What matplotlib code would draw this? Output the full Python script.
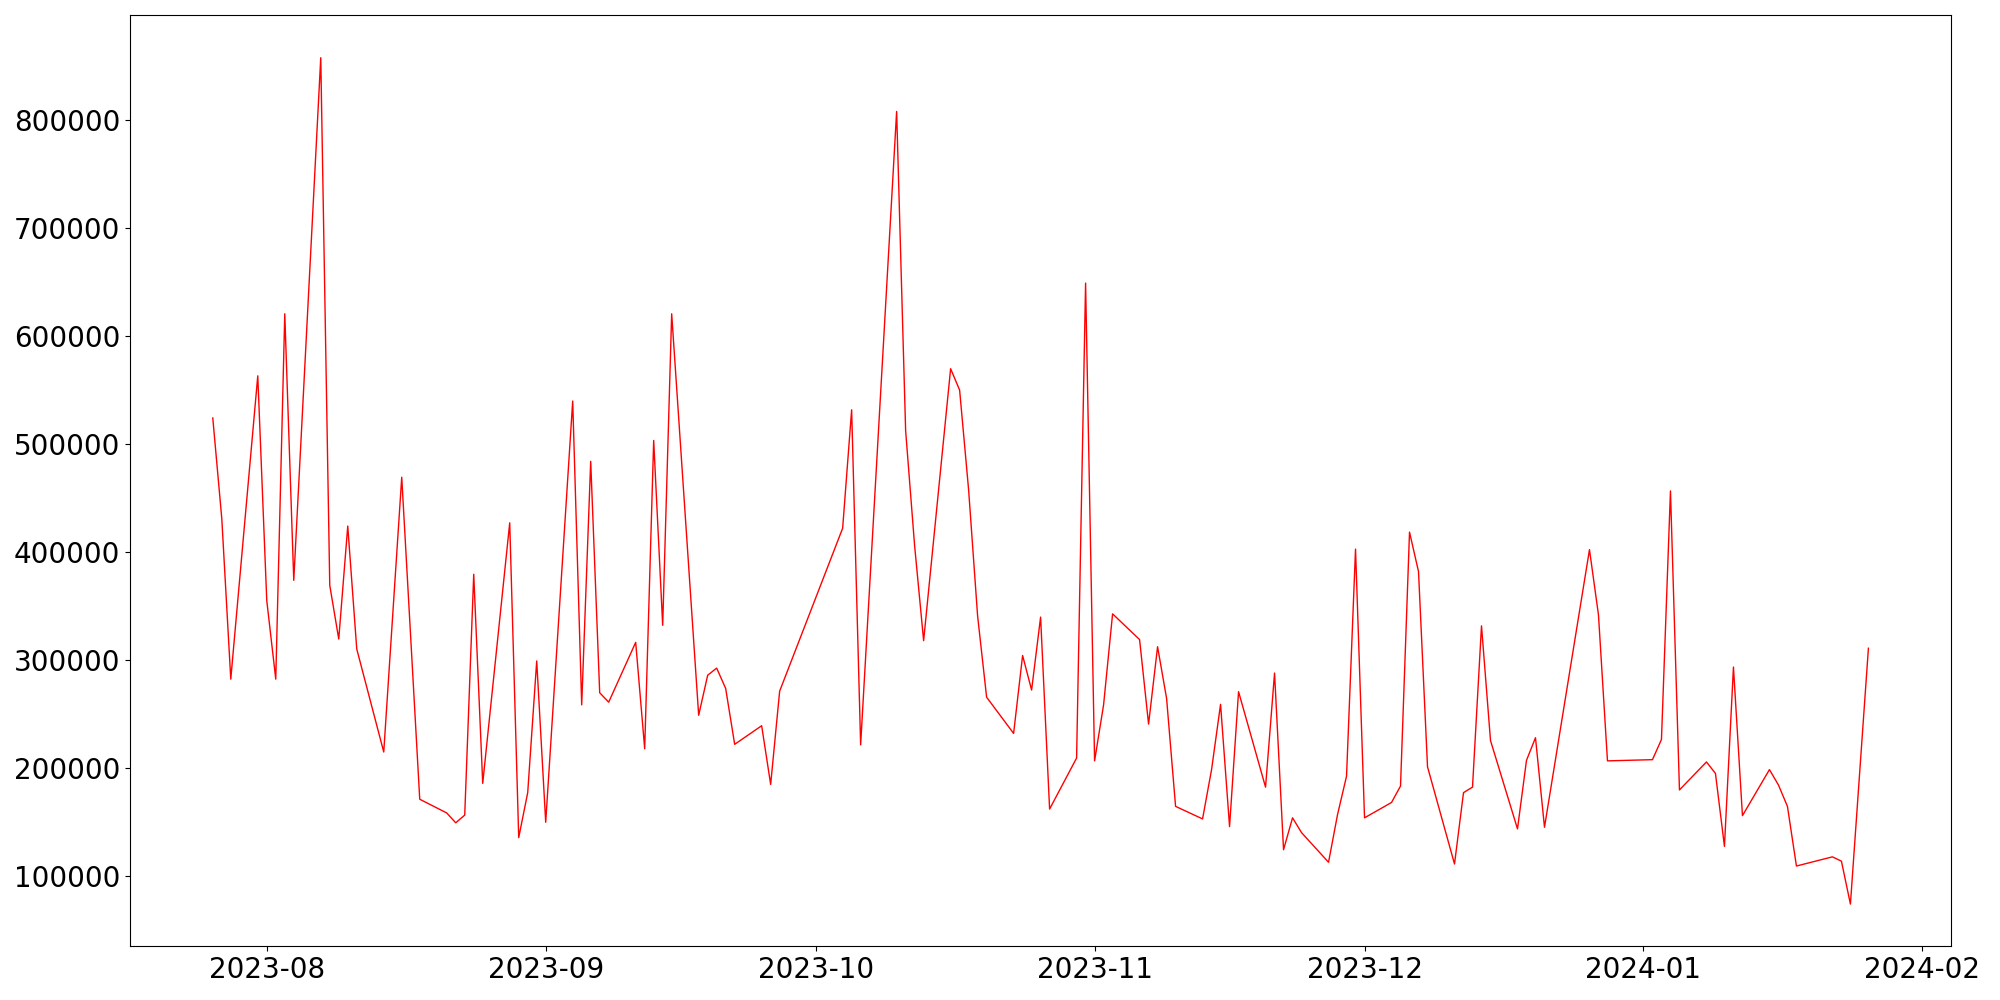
import matplotlib
matplotlib.use("Agg")
import matplotlib.pyplot as plt
import numpy as np

dates = [
    "2023-07-26", "2023-07-27", "2023-07-28", "2023-07-31",
    "2023-08-01", "2023-08-02", "2023-08-03", "2023-08-04",
    "2023-08-07", "2023-08-08", "2023-08-09", "2023-08-10", "2023-08-11",
    "2023-08-14", "2023-08-16", "2023-08-18",
    "2023-08-21", "2023-08-22", "2023-08-23", "2023-08-24", "2023-08-25",
    "2023-08-28", "2023-08-29", "2023-08-30", "2023-08-31", "2023-09-01",
    "2023-09-04", "2023-09-05", "2023-09-06", "2023-09-07", "2023-09-08",
    "2023-09-11", "2023-09-12", "2023-09-13", "2023-09-14", "2023-09-15",
    "2023-09-18", "2023-09-19", "2023-09-20", "2023-09-21", "2023-09-22",
    "2023-09-25", "2023-09-26", "2023-09-27",
    "2023-10-04", "2023-10-05", "2023-10-06",
    "2023-10-10", "2023-10-11", "2023-10-12", "2023-10-13",
    "2023-10-16", "2023-10-17", "2023-10-18", "2023-10-19", "2023-10-20",
    "2023-10-23", "2023-10-24", "2023-10-25", "2023-10-26", "2023-10-27",
    "2023-10-30", "2023-10-31", "2023-11-01", "2023-11-02", "2023-11-03",
    "2023-11-06", "2023-11-07", "2023-11-08", "2023-11-09", "2023-11-10",
    "2023-11-13", "2023-11-14", "2023-11-15", "2023-11-16", "2023-11-17",
    "2023-11-20", "2023-11-21", "2023-11-22", "2023-11-23", "2023-11-24",
    "2023-11-27", "2023-11-28", "2023-11-29", "2023-11-30", "2023-12-01",
    "2023-12-04", "2023-12-05", "2023-12-06", "2023-12-07", "2023-12-08",
    "2023-12-11", "2023-12-12", "2023-12-13", "2023-12-14", "2023-12-15",
    "2023-12-18", "2023-12-19", "2023-12-20", "2023-12-21",
    "2023-12-26", "2023-12-27", "2023-12-28",
    "2024-01-02", "2024-01-03", "2024-01-04", "2024-01-05",
    "2024-01-08", "2024-01-09", "2024-01-10", "2024-01-11", "2024-01-12",
    "2024-01-15", "2024-01-16", "2024-01-17", "2024-01-18",
    "2024-01-22", "2024-01-23", "2024-01-24", "2024-01-26",
]

values = [
    524000, 431000, 282400, 563000,
    355000, 282400, 620400, 373800,
    857300, 369200, 319500, 424000, 310300,
    215000, 469200, 171300,
    158600, 149500, 156600, 379400, 186000,
    427000, 135800, 177400, 299200, 150000,
    539700, 258600, 483900, 269800, 261100,
    316400, 218000, 503200, 332200, 620400,
    249000, 286000, 292600, 273800, 222100,
    239300, 185000, 271300,
    422000, 531600, 221600,
    807600, 512300, 405700, 318000,
    569600, 549800, 457500, 340800, 265700,
    232200, 304300, 272300, 339800, 162200,
    209400, 648800, 206800, 258600, 342800,
    319000, 240800, 312400, 264700, 164700,
    153100, 198700, 259100, 146000, 270800,
    182500, 288000, 124600, 154100, 140400,
    113000, 157100, 192600, 402700, 154100,
    168300, 183500, 418400, 381900, 201300,
    111400, 177400, 182500, 331700, 225600,
    143900, 207300, 228200, 145400,
    402200, 341800, 206800,
    207900, 226600, 456500, 179900,
    205800, 195200, 127700, 293600, 156100,
    198700, 184500, 164700, 109500,
    118000, 114000, 74300, 311000,
]

x = np.array(dates, dtype="datetime64[D]")
y = np.array(values)

fig = plt.figure(figsize=(20, 10), dpi=100)
ax = fig.add_axes([0.065, 0.0536, 0.9106, 0.931])
ax.plot(x, y, color="red", linewidth=1.0)
ax.tick_params(axis="both", labelsize=20)
fig.savefig("out.png", dpi=100)
